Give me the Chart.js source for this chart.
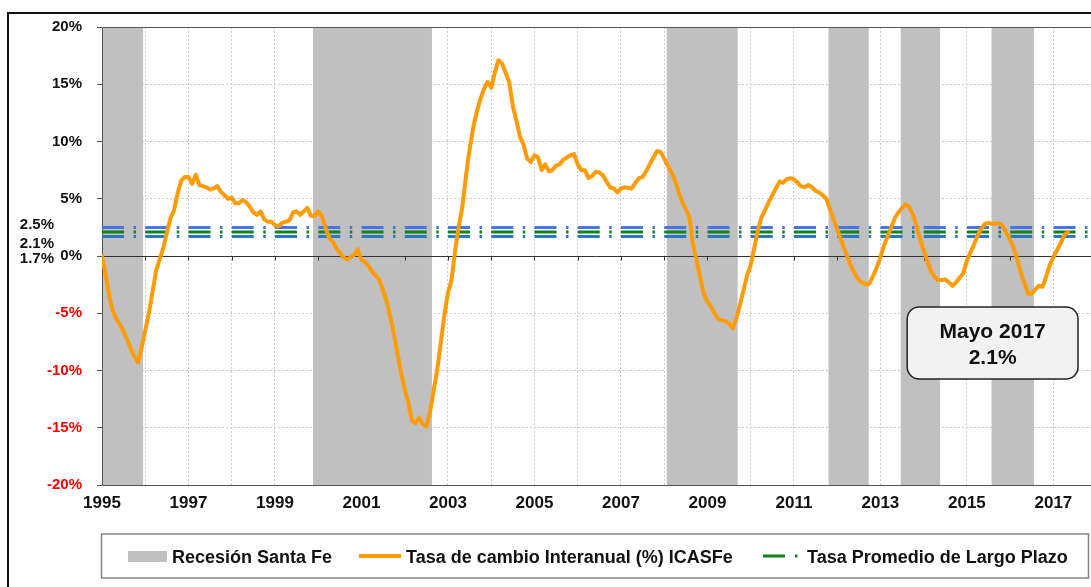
<!DOCTYPE html>
<html>
<head>
<meta charset="utf-8">
<title>ICASFe</title>
<script src="https://cdn.jsdelivr.net/npm/chart.js@4.4.0/dist/chart.umd.min.js"></script>
<style>
html, body { margin: 0; padding: 0; background: #fff; }
#wrap { position: relative; width: 1091px; height: 587px; }
</style>
</head>
<body>
<div id="wrap"><canvas id="chart"></canvas></div>
<script>
// serie mensual desde enero 1995
var anioInicial = 1995;
var tasaInteranual = [
    0, -1.6, -3.5, -4.8, -5.5, -6.0, -6.6, -7.3, -8.1, -8.8, -9.3, -8.0,          // 1995
    -6.5, -5.0, -3.2, -1.3, -0.3, 0.7, 2.0, 3.3, 4.0, 5.5, 6.6, 6.9,              // 1996
    6.9, 6.3, 7.1, 6.2, 6.1, 6.0, 5.8, 5.9, 6.1, 5.6, 5.3, 5.0,                   // 1997
    5.1, 4.6, 4.6, 4.9, 4.7, 4.3, 3.8, 3.6, 3.9, 3.2, 3.0, 3.0,                   // 1998
    2.7, 2.6, 2.9, 3.0, 3.1, 3.8, 3.9, 3.6, 3.9, 4.2, 3.5, 3.5,                   // 1999
    3.9, 3.5, 2.5, 1.6, 1.3, 0.7, 0.3, -0.1, -0.3, -0.1, 0.1, 0.6,                // 2000
    -0.35, -0.5, -0.9, -1.4, -1.7, -2.1, -3.0, -4.0, -5.3, -6.8, -8.5, -10.2,     // 2001
    -11.7, -12.8, -14.4, -14.6, -14.1, -14.7, -14.9, -13.7, -11.8, -10.0, -7.6, -5.2, // 2002
    -3.2, -2.1, 0.5, 2.6, 4.3, 7.0, 9.3, 11.2, 12.6, 13.7, 14.6, 15.2,            // 2003
    14.7, 16.0, 17.1, 16.8, 16.0, 15.2, 13.1, 11.8, 10.4, 9.7, 8.5, 8.2,          // 2004
    8.8, 8.6, 7.5, 8.0, 7.4, 7.5, 7.9, 8.0, 8.4, 8.6, 8.8, 8.9,                   // 2005
    8.0, 7.5, 7.5, 6.8, 7.0, 7.35, 7.3, 7.05, 6.5, 6.0, 5.9, 5.55,                // 2006
    5.9, 6.0, 5.95, 5.9, 6.4, 6.8, 6.9, 7.4, 8.0, 8.6, 9.15, 9.1,                 // 2007
    8.5, 7.9, 7.3, 6.6, 5.6, 4.7, 4.1, 3.4, 1.0, -0.4, -1.9, -3.3,                // 2008
    -4.0, -4.4, -5.0, -5.5, -5.6, -5.7, -5.9, -6.3, -5.5, -4.3, -3.0, -1.7,       // 2009
    -0.8, 0.7, 2.2, 3.4, 4.0, 4.7, 5.3, 5.9, 6.5, 6.4, 6.7, 6.8,                  // 2010
    6.7, 6.4, 6.1, 6.0, 6.2, 6.0, 5.7, 5.55, 5.3, 5.0, 4.1, 3.2,                  // 2011
    2.4, 1.5, 0.6, -0.2, -1.0, -1.6, -2.1, -2.35, -2.5, -2.4, -1.7, -1.0,         // 2012
    -0.1, 0.9, 1.7, 2.5, 3.3, 3.8, 4.2, 4.5, 4.3, 3.6, 2.7, 1.5,                  // 2013
    0.5, -0.4, -1.3, -1.8, -2.1, -2.1, -2.05, -2.3, -2.6, -2.3, -1.9, -1.5,       // 2014
    -0.4, 0.3, 1.0, 1.8, 2.4, 2.8, 2.9, 2.8, 2.85, 2.85, 2.6, 2.0,                // 2015
    1.4, 0.7, -0.3, -1.5, -2.4, -3.3, -3.3, -2.9, -2.6, -2.7, -1.8, -0.8,         // 2016
    -0.1, 0.5, 1.1, 1.8, 2.1                                                      // 2017
];

// recesiones Santa Fe (inicio / fin en años decimales)
var recesionInicio = [1995.0, 1999.88, 2008.06, 2011.8, 2013.47, 2015.57];
var recesionFin = [1995.95, 2002.63, 2009.7, 2012.73, 2014.38, 2016.55];

// tasa promedio de largo plazo y banda
var tasaLargoPlazo = [2.5, 2.1, 1.7];
var etiquetasLargoPlazo = ['2.5%', '2.1%', '1.7%'];
var coloresLargoPlazo = ['#4774e8', '#12821a', '#2a78c2'];

var anioMin = 1995;
var anioMax = 2017.87;
var yMin = -20, yMax = 20, yPaso = 5;

var ultimoDato = { texto: 'Mayo 2017', valor: '2.1%' };

var FONT = 'Arial, "Liberation Sans", sans-serif';

var datasets = [{
    label: 'Tasa de cambio Interanual (%) ICASFe',
    data: tasaInteranual.map(function (v, i) {
        return { x: anioInicial + i / 12, y: v };
    }),
    borderColor: '#ff9b05',
    borderWidth: 4,
    pointRadius: 0,
    tension: 0,
    borderJoinStyle: 'round',
    borderCapStyle: 'round'
}];

tasaLargoPlazo.forEach(function (v, i) {
    datasets.push({
        label: 'Tasa Promedio de Largo Plazo ' + etiquetasLargoPlazo[i],
        data: [{ x: anioMin, y: v }, { x: anioMax, y: v }],
        borderColor: coloresLargoPlazo[i],
        borderWidth: 3,
        borderDash: [22, 9.5, 2.5, 9.25],
        borderCapStyle: 'butt',
        pointRadius: 0
    });
});

var fondoPlugin = {
    id: 'fondo',
    beforeDraw: function (chart) {
        var ctx = chart.ctx;
        ctx.save();
        ctx.fillStyle = '#ffffff';
        ctx.fillRect(0, 0, chart.width, chart.height);
        // marco exterior
        ctx.strokeStyle = '#111';
        ctx.lineWidth = 2;
        ctx.beginPath();
        ctx.moveTo(8, chart.height + 2);
        ctx.lineTo(8, 13);
        ctx.lineTo(chart.width + 2, 13);
        ctx.stroke();
        ctx.restore();
    }
};

var recesionPlugin = {
    id: 'recesion',
    beforeDatasetsDraw: function (chart) {
        var ctx = chart.ctx;
        var area = chart.chartArea;
        var x = chart.scales.x, y = chart.scales.y;
        ctx.save();
        ctx.fillStyle = '#c0c0c0';
        for (var i = 0; i < recesionInicio.length; i++) {
            var x0 = x.getPixelForValue(recesionInicio[i]);
            var x1 = x.getPixelForValue(recesionFin[i]);
            ctx.fillRect(x0, area.top, x1 - x0, area.bottom - area.top);
        }

        // linea del cero con marcas anuales
        var y0 = Math.round(y.getPixelForValue(0)) + 0.5;
        ctx.strokeStyle = '#333';
        ctx.lineWidth = 1;
        ctx.beginPath();
        ctx.moveTo(area.left, y0);
        ctx.lineTo(area.right, y0);
        for (var a = Math.ceil(anioMin); a <= anioMax; a++) {
            var px = Math.round(x.getPixelForValue(a)) + 0.5;
            ctx.moveTo(px, y0);
            ctx.lineTo(px, y0 + 4);
        }
        ctx.stroke();

        // marco del area de grafico
        ctx.strokeStyle = '#555';
        ctx.beginPath();
        ctx.moveTo(area.right + 1, Math.round(area.top) + 0.5);
        ctx.lineTo(Math.round(area.left) + 0.5, Math.round(area.top) + 0.5);
        ctx.lineTo(Math.round(area.left) + 0.5, Math.round(area.bottom) + 0.5);
        ctx.lineTo(area.right + 1, Math.round(area.bottom) + 0.5);
        ctx.stroke();
        ctx.restore();
    }
};

function rectRedondeado(ctx, x, y, w, h, r) {
    ctx.beginPath();
    ctx.moveTo(x + r, y);
    ctx.arcTo(x + w, y, x + w, y + h, r);
    ctx.arcTo(x + w, y + h, x, y + h, r);
    ctx.arcTo(x, y + h, x, y, r);
    ctx.arcTo(x, y, x + w, y, r);
    ctx.closePath();
}

var anotacionPlugin = {
    id: 'anotacion',
    afterDatasetsDraw: function (chart) {
        var ctx = chart.ctx;
        var x = chart.scales.x, y = chart.scales.y;
        ctx.save();

        // recuadro ultimo dato
        var bx0 = x.getPixelForValue(2013.62), bx1 = x.getPixelForValue(2017.57);
        var by0 = y.getPixelForValue(-4.45), by1 = y.getPixelForValue(-10.75);
        rectRedondeado(ctx, bx0, by0, bx1 - bx0, by1 - by0, 12);
        ctx.fillStyle = '#f2f2f2';
        ctx.fill();
        ctx.strokeStyle = '#222';
        ctx.lineWidth = 1.5;
        ctx.stroke();
        ctx.fillStyle = '#111';
        ctx.font = 'bold 21px ' + FONT;
        ctx.textAlign = 'center';
        ctx.textBaseline = 'middle';
        var cx = (bx0 + bx1) / 2;
        ctx.fillText(ultimoDato.texto, cx, by0 + 25);
        ctx.fillText(ultimoDato.valor, cx, by0 + 51);

        // etiquetas de la tasa de largo plazo
        var desfase = [-3, 12, 22];
        ctx.font = 'bold 15px ' + FONT;
        ctx.textAlign = 'right';
        for (var i = 0; i < tasaLargoPlazo.length; i++) {
            ctx.fillText(etiquetasLargoPlazo[i], 54, y.getPixelForValue(tasaLargoPlazo[i]) + desfase[i]);
        }
        ctx.restore();
    }
};

var leyendaPlugin = {
    id: 'leyenda',
    afterDraw: function (chart) {
        var ctx = chart.ctx;
        ctx.save();
        ctx.strokeStyle = '#858585';
        ctx.lineWidth = 1.5;
        ctx.strokeRect(101.5, 534, 987, 44);

        var ym = 556;
        ctx.fillStyle = '#c0c0c0';
        ctx.fillRect(128, 551, 39, 11);

        ctx.strokeStyle = '#ff9b05';
        ctx.lineWidth = 4;
        ctx.beginPath();
        ctx.moveTo(359, ym);
        ctx.lineTo(401, ym);
        ctx.stroke();

        ctx.strokeStyle = coloresLargoPlazo[1];
        ctx.lineWidth = 3;
        ctx.beginPath();
        ctx.moveTo(763, ym);
        ctx.lineTo(785, ym);
        ctx.moveTo(795, ym);
        ctx.lineTo(797.5, ym);
        ctx.stroke();

        ctx.fillStyle = '#111';
        ctx.font = 'bold 18px ' + FONT;
        ctx.textAlign = 'left';
        ctx.textBaseline = 'alphabetic';
        ctx.fillText('Recesión Santa Fe', 172, 562.5);
        ctx.fillText('Tasa de cambio Interanual (%) ICASFe', 406, 562.5);
        ctx.fillText('Tasa Promedio de Largo Plazo', 807, 562.5);
        ctx.restore();
    }
};

new Chart(document.getElementById('chart'), {
    type: 'line',
    data: { datasets: datasets },
    options: {
        responsive: true,
        maintainAspectRatio: false,
        animation: false,
        devicePixelRatio: 1,
        layout: {
            autoPadding: false,
            padding: { left: 0, right: 0, top: 27, bottom: 72 }
        },
        scales: {
            x: {
                type: 'linear',
                min: anioMin,
                max: anioMax,
                afterFit: function (scale) { scale.height = 30; },
                border: { display: false, dash: [2, 2] },
                grid: {
                    color: '#cacaca',
                    drawTicks: false
                },
                ticks: {
                    stepSize: 1,
                    includeBounds: false,
                    autoSkip: false,
                    maxRotation: 0,
                    padding: 8,
                    color: '#111',
                    font: { family: FONT, size: 17, weight: 'bold' },
                    callback: function (v) {
                        return (Number.isInteger(v) && (v - anioInicial) % 2 === 0) ? String(v) : '';
                    }
                }
            },
            y: {
                min: yMin,
                max: yMax,
                afterFit: function (scale) { scale.width = 102; },
                border: { display: false, dash: [2, 2] },
                grid: {
                    color: function (c) {
                        return c.tick && c.tick.value === 0 ? 'rgba(0,0,0,0)' : '#cacaca';
                    },
                    tickColor: '#555',
                    tickLength: 5,
                    tickBorderDash: []
                },
                ticks: {
                    stepSize: yPaso,
                    padding: 15,
                    font: { family: FONT, size: 15, weight: 'bold' },
                    color: function (c) {
                        return c.tick && c.tick.value < 0 ? '#ff0000' : '#111';
                    },
                    callback: function (v) { return v + '%'; }
                }
            }
        },
        plugins: {
            legend: { display: false },
            tooltip: { enabled: false }
        }
    },
    plugins: [fondoPlugin, recesionPlugin, anotacionPlugin, leyendaPlugin]
});
</script>
</body>
</html>
